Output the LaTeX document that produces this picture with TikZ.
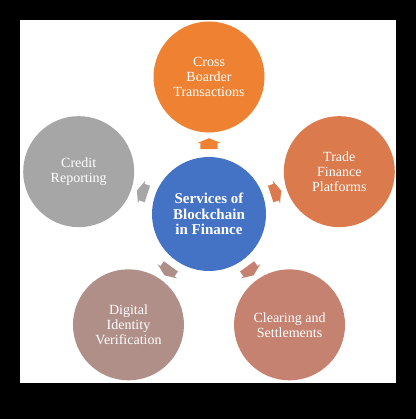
\documentclass[tikz,border=0pt]{standalone}
\usepackage{fontspec}
\setmainfont{Liberation Serif}
\usepackage{tikz}
\usetikzlibrary{positioning,calc,shapes.arrows}
\definecolor{Blue}{HTML}{4472C4}
\definecolor{Orange}{HTML}{EE8232}
\definecolor{Rust}{HTML}{DB7A4C}
\definecolor{Salmon}{HTML}{C58270}
\definecolor{Mauve}{HTML}{B08F89}
\definecolor{Grey}{HTML}{A6A6A6}

\begin{document}
\begin{tikzpicture}[x=1pt,y=1pt,
        svc/.style={circle,minimum size=111pt,inner sep=0pt,align=center,text=white,font=\fontsize{14}{15}\selectfont},
        hub/.style={circle,minimum size=114pt,inner sep=0pt,align=center,text=white,fill=Blue,font=\fontsize{15}{15.5}\selectfont\bfseries},
        blk/.style={single arrow,inner xsep=0pt,inner ysep=8.5pt,minimum height=11pt,single arrow head extend=3.5pt,single arrow tip angle=135}]
        \fill[black] (0,0) rectangle (416,419);
        \useasboundingbox (0,0) rectangle (416,419);
        \fill[white] (20,36) rectangle (396,399);
        \node[hub] (c) at (209,205) {Services of\\Blockchain\\in Finance};
        \node[svc,fill=Orange] (cb) at ($(c)+(90:137)$) {Cross\\Boarder\\Transactions};
        \node[svc,fill=Rust] (tf) at ($(c)+(18:137)$) {Trade\\Finance\\Platforms};
        \node[svc,fill=Salmon] (cs) at ($(c)+(-54:137)$) {Clearing and\\Settlements};
        \node[svc,fill=Mauve] (di) at ($(c)+(234:137)$) {Digital\\Identity\\Verification};
        \node[svc,fill=Grey] (cr) at ($(c)+(162:137)$) {Credit\\Reporting};
        \node[blk,fill=Orange,rotate=90] (acb) at ($(c)!0.5!(cb)$) {};
        \node[blk,fill=Rust,rotate=18] (atf) at ($(c)!0.5!(tf)$) {};
        \node[blk,fill=Salmon,rotate=-54] (acs) at ($(c)!0.5!(cs)$) {};
        \node[blk,fill=Mauve,rotate=234] (adi) at ($(c)!0.5!(di)$) {};
        \node[blk,fill=Grey,rotate=162] (acr) at ($(c)!0.5!(cr)$) {};
      \end{tikzpicture}
\end{document}
